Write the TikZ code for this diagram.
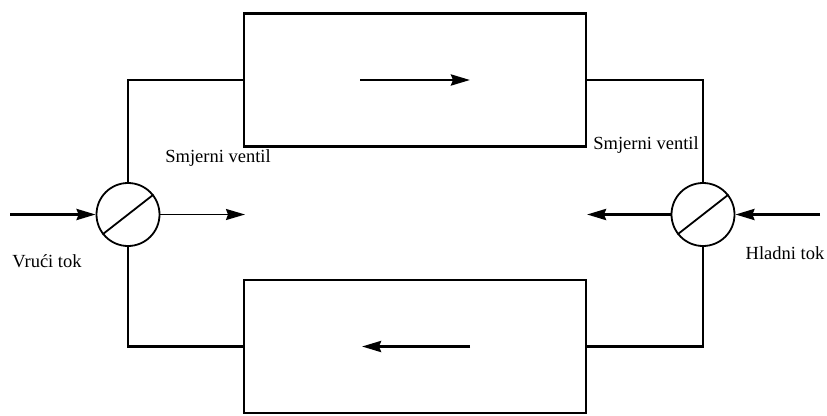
\documentclass[tikz,border=0pt]{standalone}
\usepackage{fontspec}
\setmainfont{Liberation Serif}
\usetikzlibrary{arrows.meta}
\usetikzlibrary{calc}
\tikzset{rgp/.style={
  x=1pt,
  y=-1pt,
  line width=2.4pt
}}
\tikzset{hxn/.style={
  draw,
  shape=rectangle,
  minimum width=342pt,
  minimum height=133pt,
  inner sep=0pt
}}
\tikzset{vln/.style={
  draw,
  shape=circle,
  line width=1.8pt,
  minimum size=63pt,
  inner sep=0pt
}}
\tikzset{flw/.style={
  -{Stealth[length=19pt,width=11pt,inset=2pt]}
}}
\tikzset{lbl/.style={
  font=\fontsize{18.5}{20}\selectfont,
  inner sep=0pt
}}

\begin{document}
\begin{tikzpicture}[rgp]
    \useasboundingbox (0,0) rectangle (827,415);

    % Regenerators
    \node[hxn] (hxa) at (415,80) {};
    \node[hxn] (hxb) at (415,346.5) {};

    % Valves
    \node[vln] (vla) at (128,214.5) {};
    \node[vln] (vlb) at (703,214.5) {};
    \draw[line width=1.8pt] (vla.218) -- (vla.38);
    \draw[line width=1.8pt] (vlb.218) -- (vlb.38);

    % Piping
    \draw (vla.north) |- (hxa.west);
    \draw (vla.south) |- (hxb.west);
    \draw (vlb.north) |- (hxa.east);
    \draw (vlb.south) |- (hxb.east);

    % Flows through the regenerators
    \coordinate (fa1) at (360,80);
    \coordinate (fa2) at (470,80);
    \coordinate (fb1) at (470,346.5);
    \coordinate (fb2) at (362,346.5);
    \draw[flw,line width=2.8pt] (fa1) -- (fa2);
    \draw[flw,line width=2.8pt] (fb1) -- (fb2);

    % Hot and cold streams
    \coordinate (hin) at (10,214.5);
    \coordinate (hout) at (245,214.5);
    \coordinate (cin) at (820,214.5);
    \coordinate (cout) at (587,214.5);
    \draw[flw,line width=2.8pt] (hin) -- (vla.west);
    \draw[flw,line width=1.8pt] (vla.east) -- (hout);
    \draw[flw,line width=2.8pt] (cin) -- (vlb.east);
    \draw[flw,line width=2.8pt] (vlb.west) -- (cout);

    % Labels
    \node[lbl] (sva) at (218,158) {Smjerni ventil};
    \node[lbl] (svb) at (646,145) {Smjerni ventil};
    \node[lbl] (hot) at (47,261) {Vrući tok};
    \node[lbl] (cld) at (785,253) {Hladni tok};

  \end{tikzpicture}
\end{document}
